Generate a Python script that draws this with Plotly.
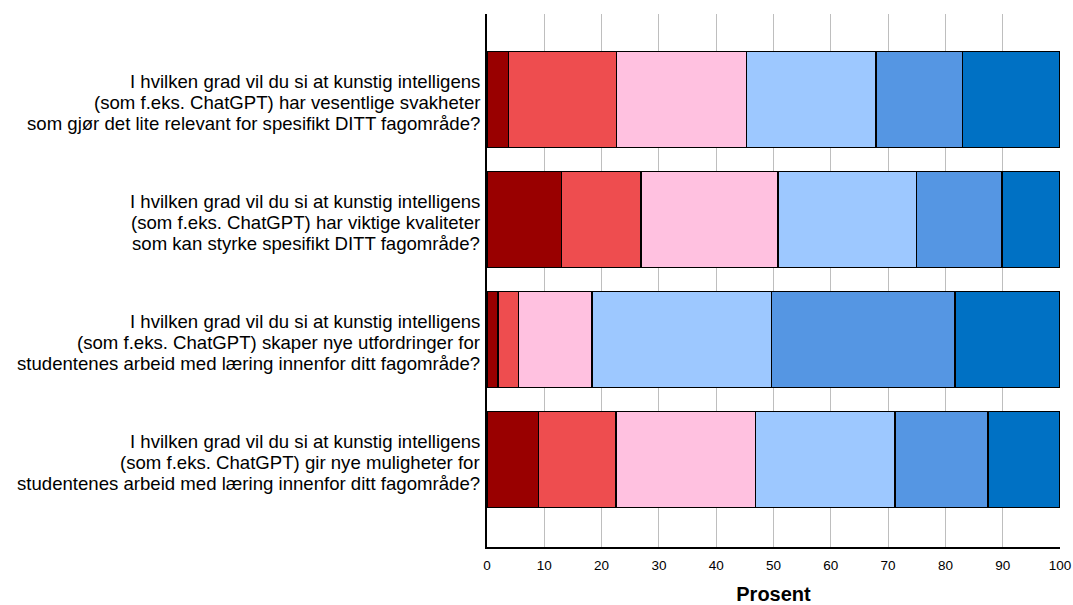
import plotly.graph_objects as go

question_lines = [
    ["I hvilken grad vil du si at kunstig intelligens",
     "(som f.eks. ChatGPT) har vesentlige svakheter",
     "som gjør det lite relevant for spesifikt DITT fagområde?"],
    ["I hvilken grad vil du si at kunstig intelligens",
     "(som f.eks. ChatGPT) har viktige kvaliteter",
     "som kan styrke spesifikt DITT fagområde?"],
    ["I hvilken grad vil du si at kunstig intelligens",
     "(som f.eks. ChatGPT) skaper nye utfordringer for",
     "studentenes arbeid med læring innenfor ditt fagområde?"],
    ["I hvilken grad vil du si at kunstig intelligens",
     "(som f.eks. ChatGPT) gir nye muligheter for",
     "studentenes arbeid med læring innenfor ditt fagområde?"],
]

levels = ["1", "2", "3", "4", "5", "6"]
values = [
    [3.8, 13.0, 1.9, 9.0],
    [18.8, 13.9, 3.6, 13.5],
    [22.7, 23.9, 12.8, 24.4],
    [22.6, 24.2, 31.3, 24.3],
    [15.1, 14.9, 32.1, 16.2],
    [17.0, 10.1, 18.3, 12.6],
]
colors = ["#990000", "#EE4D4F", "#FFC1E0", "#9DC8FF", "#5596E3", "#0071C4"]

x_ticks = list(range(0, 101, 10))
positions = list(range(len(question_lines)))

FONT = "Liberation Sans, Arial, sans-serif"

fig = go.Figure()
for lvl, vals, col in zip(levels, values, colors):
    fig.add_trace(go.Bar(
        y=positions, x=vals, name=lvl, orientation="h",
        marker=dict(color=col, line=dict(color="#000000", width=1.4)),
        width=0.8, showlegend=False,
    ))

annotations = []
for pos, lines in zip(positions, question_lines):
    for i, line in enumerate(lines):
        annotations.append(dict(
            text=line, xref="paper", x=0, xanchor="right", xshift=-5,
            yref="y", y=pos, yanchor="middle", yshift=-(i - 1) * 20.8 - 3,
            showarrow=False, font=dict(size=18.6, family=FONT, color="#000000"),
        ))

fig.update_layout(
    barmode="stack",
    width=1073, height=605,
    margin=dict(l=487, r=13, t=14, b=58, autoexpand=False),
    plot_bgcolor="white", paper_bgcolor="white",
    font=dict(family=FONT, color="#000000"),
    annotations=annotations,
)
fig.update_xaxes(
    range=[0, 100], tickvals=x_ticks, showgrid=True, gridcolor="#BEBEBE", gridwidth=1,
    showline=True, linecolor="#000000", linewidth=1.5, zeroline=False,
    tickfont=dict(size=13.5), automargin=False, ticklabelstandoff=5,
    title=dict(text="<b>Prosent</b>", font=dict(size=20), standoff=23),
)
fig.update_yaxes(
    range=[3.73, -0.715], tickvals=positions, showticklabels=False,
    showgrid=False, showline=True, linecolor="#000000", linewidth=1.5,
    zeroline=False, ticks="", automargin=False,
)

fig.write_html("out.html", config={"displayModeBar": False},
               post_script="document.body.style.margin='0px';")
